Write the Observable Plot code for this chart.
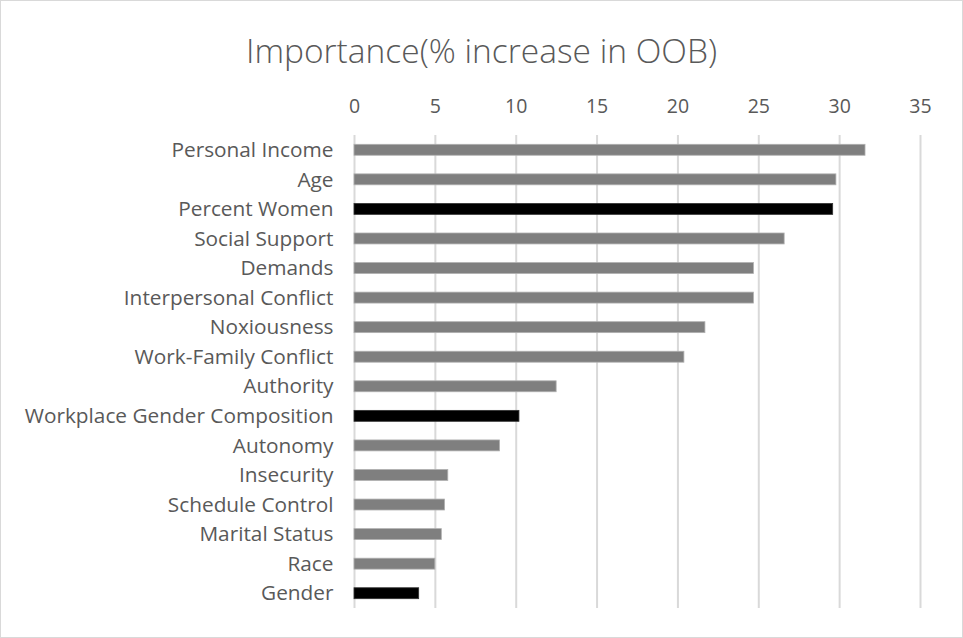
<!DOCTYPE html>
<html>
<head>
<meta charset="utf-8">
<script src="https://cdn.jsdelivr.net/npm/d3@7"></script>
<script src="https://cdn.jsdelivr.net/npm/@observablehq/plot@0.6"></script>
<style>
  html, body { margin: 0; padding: 0; background: #fff; }
  #wrap { position: relative; width: 961px; height: 636px; border: 1px solid #d9d9d9; overflow: hidden; font-family: "Open Sans", Lato, sans-serif; }
  #title { height: 84px; line-height: 98px; text-align: center; font-size: 33.5px; font-weight: 300; color: #595959; }
  svg { display: block; }
</style>
</head>
<body>
<div id="wrap">
  <div id="title">Importance(% increase in OOB)</div>
  <div id="chart"></div>
</div>
<script>
const categories = ["Personal Income","Age","Percent Women","Social Support","Demands","Interpersonal Conflict","Noxiousness","Work-Family Conflict","Authority","Workplace Gender Composition","Autonomy","Insecurity","Schedule Control","Marital Status","Race","Gender"];
const values = [31.6, 29.8, 29.6, 26.6, 24.7, 24.7, 21.7, 20.4, 12.5, 10.2, 9.0, 5.8, 5.6, 5.4, 5.0, 4.0];
const highlighted = ["Percent Women", "Workplace Gender Composition", "Gender"];
const xTicks = [0, 5, 10, 15, 20, 25, 30, 35];

const data = categories.map((c, i) => ({category: c, value: values[i], hi: highlighted.includes(c)}));

const chart = Plot.plot({
  width: 961,
  height: 552,
  marginLeft: 353,
  marginRight: 42,
  marginTop: 50,
  marginBottom: 29,
  style: {fontFamily: "'Open Sans', Lato, sans-serif", fontSize: "19px", color: "#595959", background: "#fff"},
  x: {domain: [0, 35], ticks: xTicks, axis: null},
  y: {domain: categories, paddingInner: 0.63, paddingOuter: 0.315, round: false, axis: null},
  marks: [
    Plot.ruleX(xTicks, {stroke: "#d9d9d9", strokeWidth: 2}),
    Plot.axisX({anchor: "top", ticks: xTicks, tickSize: 0, tickPadding: 23, fontSize: 19.5, fill: "#595959", label: null}),
    Plot.axisY({anchor: "left", tickSize: 0, tickPadding: 21, fontSize: 20.8, fill: "#595959", label: null}),
    Plot.barX(data, {x: "value", y: "category", fill: d => d.hi ? "#000000" : "#7f7f7f", stroke: d => d.hi ? "#333" : "#b0b0b0", strokeWidth: 0.8})
  ]
});
document.getElementById("chart").appendChild(chart);
</script>
</body>
</html>
